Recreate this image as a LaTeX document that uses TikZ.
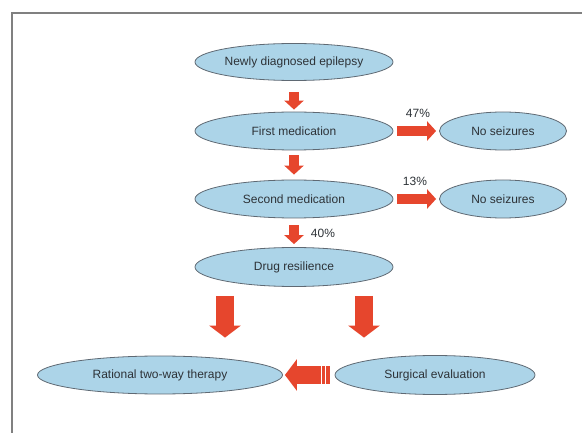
\documentclass[tikz,border=0pt]{standalone}
\usepackage{fontspec}
\setmainfont{Liberation Sans}
\usepackage{tikz}
\usetikzlibrary{shapes,arrows,arrows.meta}
\usetikzlibrary{calc}
\definecolor{ellfill}{RGB}{172,212,232}
\definecolor{ellline}{RGB}{95,105,115}
\definecolor{arrred}{RGB}{230,70,45}
\definecolor{txtgray}{RGB}{45,50,55}
\tikzstyle{every node}=[font=\fontsize{12}{14}\selectfont,text=txtgray]
\tikzstyle{oval}=[ellipse,draw=ellline,line width=0.8pt,fill=ellfill,inner sep=0pt]
\tikzstyle{smallarrow}=[draw=arrred,line width=10pt,-{Triangle[width=19pt,length=9pt]}]
\tikzstyle{bigarrow}=[draw=arrred,line width=18pt,-{Triangle[width=31pt,length=12pt]}]

\begin{document}
\begin{tikzpicture}[x=1pt,y=-1pt]
\useasboundingbox (0,0) rectangle (582,433);
\draw [line width=1.5pt,draw=gray](12,433) -- (12,13) -- (582,13);
\node [oval,minimum width=198,minimum height=37] (newly) at (294,62) {Newly diagnosed epilepsy};
\node [oval,minimum width=198,minimum height=38] (first) at (294,131) {First medication};
\node [oval,minimum width=127,minimum height=38] (nosz1) at (503,131) {No seizures};
\node [oval,minimum width=198,minimum height=38] (second) at (294,199) {Second medication};
\node [oval,minimum width=127,minimum height=38] (nosz2) at (503,199) {No seizures};
\node [oval,minimum width=198,minimum height=39] (drug) at (294,267) {Drug resilience};
\node [oval,minimum width=245,minimum height=38] (ratio) at (160,375) {Rational two-way therapy};
\node [oval,minimum width=200,minimum height=39] (surg) at (435,375) {Surgical evaluation};
\draw [smallarrow,shorten <=11pt,shorten >=2pt](newly) -- (first);
\draw [smallarrow,shorten <=5pt,shorten >=5pt](first) -- (second);
\draw [smallarrow,shorten <=7pt,shorten >=3pt](second) -- (drug);
\draw [smallarrow,shorten <=4pt,shorten >=3pt](first) -- (nosz1);
\draw [smallarrow,shorten <=4pt,shorten >=3pt](second) -- (nosz2);
\node at (418,113) {47\%};
\node at (415,181) {13\%};
\node at (323,233) {40\%};
\draw [bigarrow,shorten <=9pt,shorten >=18pt]([xshift=-69pt]drug.south) -- ([xshift=-69pt]drug.south |- ratio.north);
\draw [bigarrow,shorten <=9pt,shorten >=18pt]([xshift=70pt]drug.south) -- ([xshift=70pt]drug.south |- ratio.north);
\draw [bigarrow,shorten <=5pt,shorten >=2pt](surg.west) -- (ratio.east);
\draw [draw=white,line width=1.5pt]($(surg.west)+(-9,-9)$) -- ($(surg.west)+(-9,9)$);
\draw [draw=white,line width=1.5pt]($(surg.west)+(-13,-9)$) -- ($(surg.west)+(-13,9)$);
\end{tikzpicture}
\end{document}
